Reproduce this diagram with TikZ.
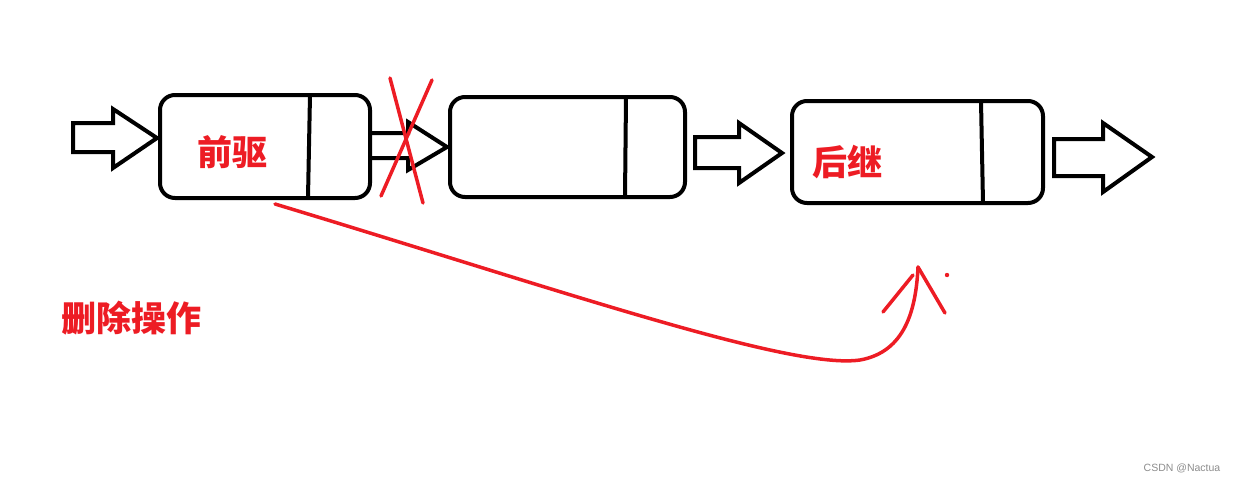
\documentclass[tikz,border=0pt]{standalone}
\usepackage{fontspec}
\setmainfont{Liberation Sans}
\newfontfamily\cjk{Noto Sans CJK SC}
\definecolor{pred}{HTML}{ED1C24}
\tikzset{
  listbox/.style={draw=black, line width=4pt, rounded corners=15pt, inner sep=0pt},
  blockarrow/.style={draw=black, line width=4pt, line join=miter},
  divider/.style={draw=black, line width=4pt},
  redline/.style={draw=pred, line width=3.5pt, line cap=round},
  cjklabel/.style={text=pred, font=\cjk\bfseries\fontsize{35}{40}\selectfont, inner sep=0pt}
}
\begin{document}
\begin{tikzpicture}[x=1pt,y=-1pt]
\useasboundingbox (0,0) rectangle (1237,483);
% boxes
\node[listbox, minimum width=210pt, minimum height=103pt] (b1) at (265,146.5) {};
\node[listbox, minimum width=235pt, minimum height=100pt] (b2) at (567.5,147) {};
\node[listbox, minimum width=251pt, minimum height=102pt] (b3) at (917.5,152) {};
% dividers
\draw[divider] (310,95) -- (308,197.5);
\draw[divider] (626,97) -- (625,197);
\draw[divider] (981,101) -- (983,203);
% block arrows
\draw[blockarrow] (73,123) -- (113,123) -- (113,109) -- (157,138) -- (113,168) -- (113,152) -- (73,152) -- cycle;
\draw[blockarrow] (370,133) -- (408,133) -- (408,122) -- (447,147) -- (408,170) -- (408,158) -- (370,158);
\draw[blockarrow] (695,137) -- (739,137) -- (739,123) -- (782,153) -- (739,183) -- (739,168) -- (695,168) -- cycle;
\draw[blockarrow] (1054,139) -- (1103,139) -- (1103,123) -- (1152,157) -- (1103,192) -- (1103,176) -- (1054,176) -- cycle;
% cross
\draw[redline] (390,78) -- (423,203);
\draw[redline] (432,80) -- (381,196);
% labels
\node[cjklabel] (l1) at (232,152) {前驱};
\node[cjklabel] (l3) at (847,162) {后继};
\node[cjklabel, anchor=west] (op) at (61,318) {删除操作};
% red curve
\coordinate (cs) at (275,204);
\coordinate (ce) at (918,267);
\draw[redline] (cs) .. controls (560,290) and (790,370) .. (860,360) .. controls (905,352) and (916,310) .. (ce);
\draw[redline] (883,312) -- (913,275);
\draw[redline] (ce) -- (945,313);
\fill[pred] (947,275) circle (2.2pt);
% watermark
\node[text=black!45, font=\fontsize{10.5}{12}\selectfont, inner sep=0pt] (wm) at (1182,468) {CSDN @Nactua};
\end{tikzpicture}
\end{document}
